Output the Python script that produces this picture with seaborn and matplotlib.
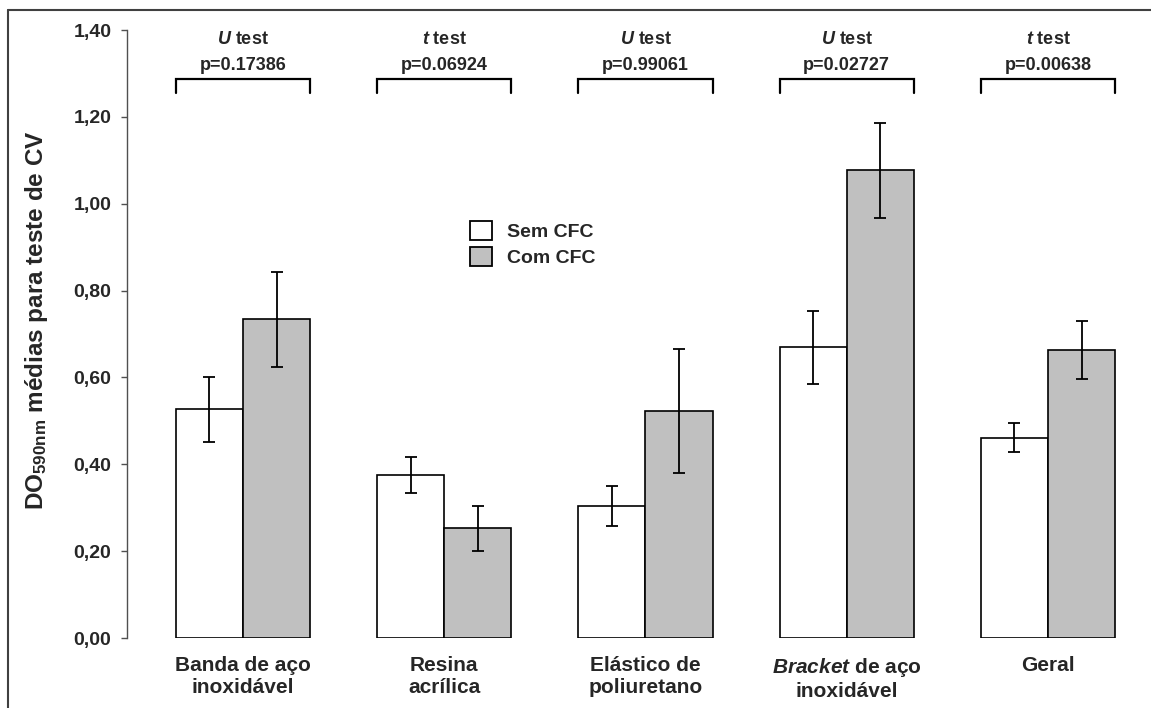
import numpy as np
import pandas as pd
import matplotlib
matplotlib.use("Agg")
import matplotlib.pyplot as plt
import seaborn as sns
from matplotlib.patches import Patch
from matplotlib.lines import Line2D

# ---------------- data ----------------
categories = ["Banda de aço\ninoxidável", "Resina\nacrílica", "Elástico de\npoliuretano",
              "$Bracket$ de aço\ninoxidável", "Geral"]
groups = ["Sem CFC", "Com CFC"]

sem_vals = [0.527, 0.376, 0.304, 0.670, 0.460]
sem_lo = [0.451, 0.334, 0.258, 0.584, 0.428]
sem_hi = [0.600, 0.416, 0.351, 0.753, 0.495]

com_vals = [0.734, 0.254, 0.522, 1.077, 0.663]
com_lo = [0.625, 0.200, 0.379, 0.968, 0.597]
com_hi = [0.843, 0.304, 0.665, 1.185, 0.731]

test_names = ["U", "t", "U", "U", "t"]
p_values = ["0.17386", "0.06924", "0.99061", "0.02727", "0.00638"]

ytick_vals = [0.0, 0.2, 0.4, 0.6, 0.8, 1.0, 1.2, 1.4]
ytick_labels = ["0,00", "0,20", "0,40", "0,60", "0,80", "1,00", "1,20", "1,40"]

ylabel = r"$\mathbf{DO}_{\mathbf{590nm}}$ médias para teste de CV"
colors = {"Sem CFC": "white", "Com CFC": "#C0C0C0"}

# ---------------- style ----------------
sns.set_theme(style="white")
plt.rcParams["font.family"] = ["Liberation Sans", "DejaVu Sans"]
plt.rcParams["font.weight"] = "bold"
plt.rcParams["mathtext.fontset"] = "custom"
plt.rcParams["mathtext.it"] = "Liberation Sans:italic:bold"
plt.rcParams["mathtext.bf"] = "Liberation Sans:bold"
plt.rcParams["mathtext.rm"] = "Liberation Sans:bold"

W, H = 1151, 708
fig = plt.figure(figsize=(W / 100, H / 100), dpi=100)
ax = fig.add_axes([126.7 / W, 70 / H, (W - 126.7) / W, 608 / H])

df = pd.DataFrame({
    "cat": categories * 2,
    "grp": [groups[0]] * len(categories) + [groups[1]] * len(categories),
    "val": sem_vals + com_vals,
})

sns.barplot(data=df, x="cat", y="val", hue="grp", order=categories, hue_order=groups,
            palette=colors, saturation=1, width=0.667, edgecolor="black",
            linewidth=1.2, errorbar=None, legend=False, ax=ax)

vals_all = [sem_vals, com_vals]
lo_all = [sem_lo, com_lo]
hi_all = [sem_hi, com_hi]
for cont, v, lo, hi in zip(ax.containers, vals_all, lo_all, hi_all):
    xs = [b.get_x() + b.get_width() / 2 for b in cont]
    v = np.array(v); lo = np.array(lo); hi = np.array(hi)
    ax.errorbar(xs, v, yerr=[v - lo, hi - v], fmt="none", ecolor="black",
                elinewidth=1.3, capsize=4.3, capthick=1.3, zorder=5)

# brackets and test annotations
br_low, br_high = 1.256, 1.288
for i, (tn, pv) in enumerate(zip(test_names, p_values)):
    left = ax.containers[0][i].get_x()
    right = ax.containers[1][i].get_x() + ax.containers[1][i].get_width()
    ax.plot([left, left, right, right], [br_low, br_high, br_high, br_low],
            color="black", lw=1.6, solid_joinstyle="miter", clip_on=False)
    cx = (left + right) / 2
    ax.text(cx, 1.379, f"${tn}$ test", ha="center", va="center",
            fontsize=13, fontweight="bold")
    ax.text(cx, 1.319, f"p={pv}", ha="center", va="center",
            fontsize=13, fontweight="bold")

# axes
ax.set_ylim(0, 1.4)
ax.set_xlim(-0.578, 4.512)
ax.set_yticks(ytick_vals)
ax.set_yticklabels(ytick_labels)
ax.set_xlabel("")
ax.set_ylabel(ylabel, fontsize=17.5, fontweight="bold")
ax.yaxis.set_label_coords(-0.0745, 0.523)
for s in ["top", "right", "bottom"]:
    ax.spines[s].set_visible(False)
ax.spines["left"].set_color("#505050")
ax.spines["left"].set_linewidth(1.0)
ax.tick_params(axis="y", direction="out", length=4.3, width=1.0, color="#505050",
               pad=6.8, labelsize=14, left=True)
ax.tick_params(axis="x", length=0, pad=13, labelsize=15)
for lab in ax.get_xticklabels() + ax.get_yticklabels():
    lab.set_fontweight("bold")

# legend
handles = [Patch(facecolor=colors[g], edgecolor="black", linewidth=1.3, label=g) for g in groups]
fig.legend(handles=handles, loc="upper left", bbox_to_anchor=(470 / W, 1 - 220.7 / H),
           frameon=False, prop={"weight": "bold", "size": 14}, handlelength=1.15,
           handleheight=1.15, handletextpad=0.75, labelspacing=0.3, borderpad=0,
           borderaxespad=0)

# outer frame (left and top visible)
fx, fy = 8 / W, 1 - 10 / H
fig.add_artist(Line2D([fx, fx], [0, fy], transform=fig.transFigure, color="#404040", lw=1.5))
fig.add_artist(Line2D([fx, 1], [fy, fy], transform=fig.transFigure, color="#404040", lw=1.5))

fig.savefig("out.png", dpi=100)
